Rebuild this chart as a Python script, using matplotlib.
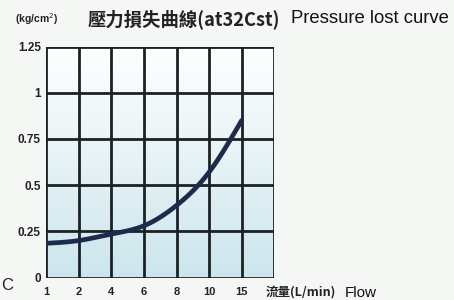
import numpy as np
import matplotlib
matplotlib.use("Agg")
import matplotlib.pyplot as plt

# Data
flow_labels = ["1", "2", "4", "6", "8", "10", "15"]
pressure = [0.185, 0.20, 0.235, 0.28, 0.39, 0.57, 0.85]
y_ticks = [0, 0.25, 0.5, 0.75, 1.0, 1.25]
y_tick_labels = ["0", "0.25", "0.5", "0.75", "1", "1.25"]

plt.rcParams['font.family'] = ['Noto Sans CJK TC', 'DejaVu Sans']

fig = plt.figure(figsize=(4.54, 3.0), dpi=100)
fig.patch.set_facecolor("#f5f7f5")
ax = fig.add_axes([0.102, 0.075, 0.502, 0.770])

x = np.arange(len(flow_labels))
ax.set_xlim(0, len(flow_labels))
ax.set_ylim(0, 1.25)

# gradient background
grad = np.linspace(0, 1, 256).reshape(-1, 1)
top = np.array([1.0, 1.0, 1.0])
bot = np.array([0.80, 0.90, 0.93])
img = top[None, None, :] * (1 - grad[:, :, None]) + bot[None, None, :] * grad[:, :, None]
ax.imshow(img, extent=[0, len(flow_labels), 0, 1.25], aspect='auto', origin='upper', zorder=0)

# grid
for xv in range(len(flow_labels) + 1):
    ax.axvline(xv, color="#1c2224", lw=2.0, zorder=1)
for yv in y_ticks:
    ax.axhline(yv, color="#1c2224", lw=2.0, zorder=1)

def natural_cubic(xp, yp, xq):
    n = len(xp)
    h = np.diff(xp)
    A = np.zeros((n, n)); b = np.zeros(n)
    A[0, 0] = 1; A[-1, -1] = 1
    for i in range(1, n - 1):
        A[i, i - 1] = h[i - 1]; A[i, i] = 2 * (h[i - 1] + h[i]); A[i, i + 1] = h[i]
        b[i] = 3 * ((yp[i + 1] - yp[i]) / h[i] - (yp[i] - yp[i - 1]) / h[i - 1])
    c = np.linalg.solve(A, b)
    out = np.empty_like(xq)
    for k, xv in enumerate(xq):
        i = min(np.searchsorted(xp, xv, side='right') - 1, n - 2)
        dx = xv - xp[i]
        bb = (yp[i + 1] - yp[i]) / h[i] - h[i] * (2 * c[i] + c[i + 1]) / 3
        d = (c[i + 1] - c[i]) / (3 * h[i])
        out[k] = yp[i] + bb * dx + c[i] * dx ** 2 + d * dx ** 3
    return out

xs = np.linspace(0, len(flow_labels) - 1, 200)
ys = natural_cubic(x.astype(float), np.array(pressure), xs)
ax.plot(xs, ys, color="#1e2a4c", lw=3.4, solid_capstyle='round', zorder=3)

for s in ax.spines.values():
    s.set_visible(False)
ax.set_xticks(x)
ax.set_xticklabels(flow_labels, fontsize=8, fontweight='bold', family='Liberation Sans', color="#222222")
ax.set_yticks(y_ticks)
ax.set_yticklabels(y_tick_labels, fontsize=8.5, fontweight='bold', family='Liberation Sans', color="#222222")
ax.tick_params(axis='x', length=0, pad=7)
ax.tick_params(axis='y', length=0, pad=4)

# titles
fig.text(0.033, 0.937, "(kg/cm$^2$)", fontsize=7.5, fontweight='bold', family='Liberation Sans', color="#222222", va='center')
fig.text(0.193, 0.937, "壓力損失曲線(at32Cst)", fontsize=13.2, fontweight='bold', color="#222222", va='center')
fig.text(0.640, 0.937, "Pressure lost curve", fontsize=13.3, family='Liberation Sans', color="#111111", va='center')

fig.text(0.584, 0.022, "流量(L/min)", fontsize=9, fontweight='bold', color="#222222", va='center')
fig.text(0.76, 0.022, "Flow", fontsize=11, family='Liberation Sans', color="#111111", va='center')
fig.text(0.002, 0.05, "C", fontsize=12, family='Liberation Sans', color="#222222", va='center')

fig.savefig("out.png", dpi=100, facecolor=fig.get_facecolor())
